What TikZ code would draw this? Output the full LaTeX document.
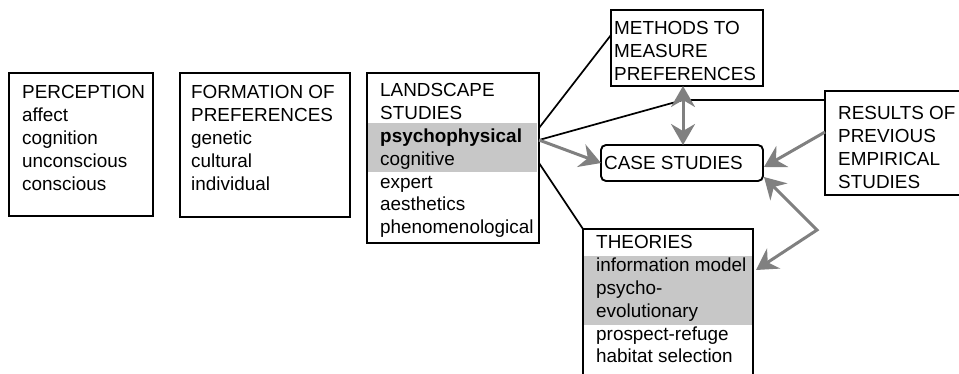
\documentclass[tikz,border=0pt]{standalone}
\usepackage{fontspec}
\setmainfont{Liberation Sans}
\usetikzlibrary{arrows.meta}
\begin{document}
\begin{tikzpicture}[x=1pt,y=-1pt,
  box/.style={draw, line width=1.9pt, rectangle, inner sep=0pt, outer sep=0pt, anchor=north west},
  txt/.style={anchor=north west, inner sep=0pt, align=left, font=\fontsize{18.9}{22.8}\selectfont},
  band/.style={fill=black!22, draw=none},
  link/.style={line width=1.7pt},
  ghead/.tip={Stealth[length=21pt,width=24pt,inset=7pt]},
  garrow/.style={draw=black!50, line width=3pt, -ghead},
  gdouble/.style={draw=black!50, line width=3pt, ghead-ghead}
]
\useasboundingbox (0,0) rectangle (959,373);
\clip (0,0) rectangle (959,373);

% bands
\fill[band] (367,123) rectangle (537,172);
\fill[band] (583,256) rectangle (753,325);

% boxes
\node[box, minimum width=144pt, minimum height=143pt] (perc) at (9,73) {};
\node[box, minimum width=170pt, minimum height=144pt] (form) at (180,73) {};
\node[box, minimum width=172pt, minimum height=170pt] (land) at (367,73) {};
\node[box, minimum width=152pt, minimum height=76pt] (meth) at (611,10) {};
\node[box, rounded corners=5pt, minimum width=162pt, minimum height=36pt] (case) at (601,145) {};
\node[box, minimum width=150pt, minimum height=104pt] (res) at (825,91) {};
\node[box, minimum width=170pt, minimum height=170pt] (theo) at (583,229) {};

% texts
\node[txt] (percT) at (22,85.4) {PERCEPTION\\affect\\cognition\\unconscious\\conscious};
\node[txt] (formT) at (191,85.4) {FORMATION OF\\PREFERENCES\\genetic\\cultural\\individual};
\node[txt] (landT) at (380,83.4) {LANDSCAPE\\STUDIES\\\textbf{psychophysical}\\cognitive\\expert\\aesthetics\\phenomenological};
\node[txt] (methT) at (614,21.4) {METHODS TO\\MEASURE\\PREFERENCES};
\node[txt, anchor=west] (caseT) at (604,163) {CASE STUDIES};
\node[txt] (resT) at (838,106.4) {RESULTS OF\\PREVIOUS\\EMPIRICAL\\STUDIES};
\node[txt] (theoT) at (596,235.4) {THEORIES\\information model\\psycho-\\evolutionary\\prospect-refuge\\habitat selection};

% attach points
\coordinate (l1) at (539,128);
\coordinate (l2) at (539,140);
\coordinate (l3) at (539,163);
\coordinate (m1) at (611,35);
\coordinate (bend) at (683,100);
\coordinate (r1) at (825,100);
\coordinate (t1) at (583,229);
\coordinate (cL) at (601,163);
\coordinate (mB) at (683,86);
\coordinate (cT) at (683,145);
\coordinate (rL) at (825,132);
\coordinate (cR) at (764,167);
\coordinate (cBR) at (764,177);
\coordinate (knee) at (817,230);
\coordinate (tR) at (756,270);

% black connectors
\draw[link] (l1) -- (m1);
\draw[link] (l2) -- (bend) -- (r1);
\draw[link] (l3) -- (t1);

% gray arrows
\draw[garrow] (l2) -- (cL);
\draw[gdouble] (mB) -- (cT);
\draw[garrow] (rL) -- (cR);
\draw[gdouble, line join=miter] (cBR) -- (knee) -- (tR);
\end{tikzpicture}
\end{document}
